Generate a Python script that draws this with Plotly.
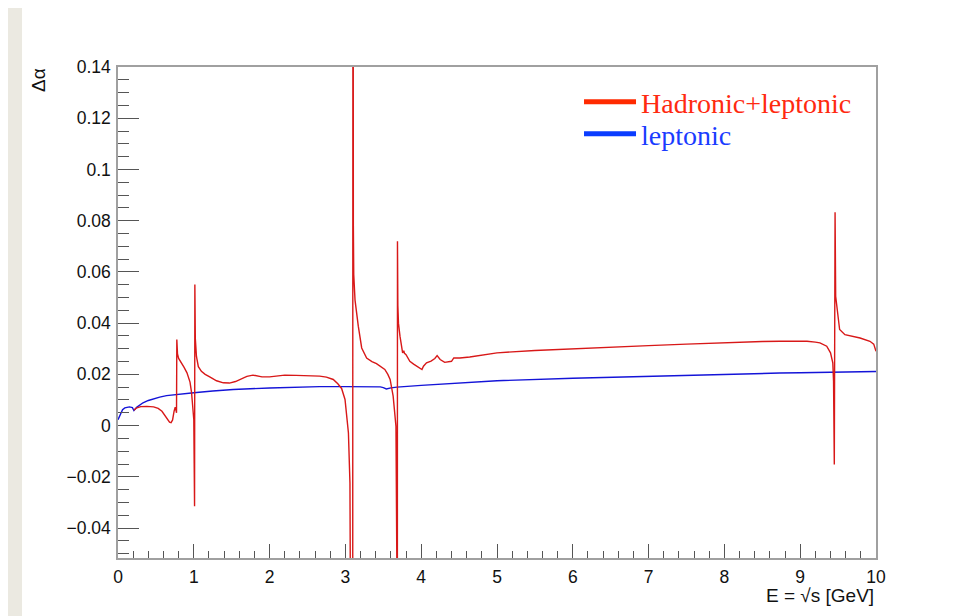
import plotly.graph_objects as go

# ---- data ----
energy_had = [0.21, 0.24, 0.30, 0.38, 0.47, 0.53, 0.58, 0.62, 0.65, 0.68, 0.70, 0.72, 0.74, 0.755,
              0.765, 0.772, 0.776, 0.785, 0.80, 0.83, 0.87, 0.91, 0.95, 0.97, 0.99, 1.000, 1.005,
              1.010, 1.014, 1.020, 1.035, 1.06, 1.10, 1.15, 1.21, 1.30, 1.39, 1.47, 1.55, 1.63,
              1.70, 1.78, 1.84, 1.90, 2.00, 2.10, 2.20, 2.35, 2.50, 2.66, 2.75, 2.84, 2.90, 2.95,
              2.995, 3.02, 3.04, 3.06, 3.08, 3.09, 3.095, 3.100, 3.105, 3.110, 3.127, 3.17, 3.215,
              3.28, 3.35, 3.41, 3.47, 3.52, 3.56, 3.59, 3.63, 3.667, 3.680, 3.684, 3.687, 3.692,
              3.700, 3.72, 3.755, 3.77, 3.78, 3.80, 3.85, 3.90, 3.94, 3.99, 4.01, 4.03, 4.07, 4.13,
              4.18, 4.21, 4.25, 4.31, 4.37, 4.40, 4.43, 4.51, 4.64, 4.80, 5.00, 5.50, 6.00, 6.50,
              7.00, 7.50, 8.00, 8.50, 8.73, 9.09, 9.20, 9.26, 9.35, 9.40, 9.43, 9.44, 9.450, 9.460,
              9.468, 9.49, 9.52, 9.59, 9.70, 9.79, 9.92, 9.97, 10.0]
dalpha_had = [0.0060, 0.0068, 0.0074, 0.0075, 0.0073, 0.0067, 0.0056, 0.0040, 0.0025, 0.0013,
              0.0011, 0.0022, 0.0056, 0.0072, 0.0060, 0.0050, 0.0336, 0.0280, 0.0262, 0.0245,
              0.0228, 0.0206, 0.0170, 0.0130, 0.0060, 0.0023, -0.0146, -0.0315, 0.0551, 0.0340,
              0.0270, 0.0230, 0.0212, 0.0200, 0.0190, 0.0175, 0.0167, 0.0166, 0.0172, 0.0182,
              0.0192, 0.0197, 0.0193, 0.0190, 0.0190, 0.0195, 0.0197, 0.0196, 0.0195, 0.0193,
              0.0189, 0.0180, 0.0163, 0.0145, 0.0102, 0.0040, -0.0029, -0.0224, -0.0600, -0.2500,
              -0.2500, 0.3000, 0.0780, 0.0590, 0.0490, 0.0388, 0.0303, 0.0264, 0.0250, 0.0242,
              0.0230, 0.0219, 0.0200, 0.0180, 0.0115, -0.0003, -0.0600, -0.2500, 0.0720, 0.0470,
              0.0400, 0.0349, 0.0284, 0.0292, 0.0282, 0.0277, 0.0251, 0.0240, 0.0232, 0.0222,
              0.0219, 0.0232, 0.0245, 0.0252, 0.0262, 0.0273, 0.0258, 0.0247, 0.0248, 0.0251,
              0.0264, 0.0264, 0.0268, 0.0276, 0.0284, 0.0293, 0.0300, 0.0306, 0.0312, 0.0318,
              0.0324, 0.0328, 0.0329, 0.0329, 0.0326, 0.0323, 0.0310, 0.0284, 0.0245, 0.0173,
              -0.0152, 0.0833, 0.0505, 0.0440, 0.0375, 0.0355, 0.0347, 0.0342, 0.0329, 0.0318,
              0.0290]

energy_lep = [0.0, 0.03, 0.06, 0.09, 0.15, 0.19, 0.21, 0.25, 0.33, 0.40, 0.47, 0.55, 0.64, 0.80,
              1.00, 1.25, 1.52, 2.00, 2.40, 2.66, 3.00, 3.30, 3.46, 3.50, 3.54, 3.60, 3.68, 4.00,
              4.64, 5.00, 6.00, 7.00, 8.00, 8.73, 9.00, 10.0]
dalpha_lep = [0.0023, 0.0045, 0.0062, 0.0069, 0.0073, 0.0070, 0.0059, 0.0072, 0.0089, 0.0098,
              0.0105, 0.0111, 0.0117, 0.0123, 0.0128, 0.0135, 0.0141, 0.0147, 0.0151, 0.0152,
              0.0152, 0.0152, 0.0151, 0.0148, 0.0143, 0.0147, 0.0150, 0.0157, 0.0169, 0.0175,
              0.0185, 0.0193, 0.0200, 0.0205, 0.0206, 0.0211]

ytick_vals = [-0.04, -0.02, 0, 0.02, 0.04, 0.06, 0.08, 0.1, 0.12, 0.14]
ytick_text = ["\u22120.04", "\u22120.02", "0", "0.02", "0.04", "0.06", "0.08", "0.1", "0.12", "0.14"]
xtick_vals = [0, 1, 2, 3, 4, 5, 6, 7, 8, 9, 10]
xtick_text = ["0", "1", "2", "3", "4", "5", "6", "7", "8", "9", "10"]

series_names = ["Hadronic+leptonic", "leptonic"]

fig = go.Figure()

fig.add_trace(go.Scatter(x=energy_lep, y=dalpha_lep, mode="lines",
                         line=dict(color="#1414d8", width=1.4), showlegend=False))
fig.add_trace(go.Scatter(x=energy_had, y=dalpha_had, mode="lines",
                         line=dict(color="#d81818", width=1.4), showlegend=False))

# legend entries
fig.add_trace(go.Scatter(x=[None], y=[None], mode="lines", legend="legend",
                         line=dict(color="#ff2a00", width=5),
                         name="<span style='color:#ff2a10'>" + series_names[0] + "</span>"))
fig.add_trace(go.Scatter(x=[None], y=[None], mode="lines", legend="legend2",
                         line=dict(color="#0a3cff", width=5),
                         name="<span style='color:#1a3cff'>" + series_names[1] + "</span>"))

axis_font = dict(family="Liberation Sans, Arial, sans-serif", size=17.5, color="#111")
legend_font = dict(family="Liberation Serif, Times New Roman, serif", size=28)

fig.update_layout(
    width=966, height=608,
    margin=dict(l=110, r=98, t=59, b=58),
    paper_bgcolor="#ebe9e1",
    plot_bgcolor="white",
    showlegend=True,
    legend=dict(x=0.6082, y=0.9287, xanchor="left", yanchor="middle", font=legend_font,
                itemwidth=52, bgcolor="rgba(0,0,0,0)"),
    legend2=dict(x=0.6082, y=0.8635, xanchor="left", yanchor="middle", font=legend_font,
                 itemwidth=52, bgcolor="rgba(0,0,0,0)"),
    xaxis=dict(range=[0, 10], showline=True, mirror=True, linecolor="#a0a0a0", linewidth=1.5,
               ticks="inside", ticklen=14, tickwidth=1, tickcolor="#555",
               tickvals=xtick_vals, ticktext=xtick_text, tickfont=axis_font,
               minor=dict(dtick=0.2, ticks="inside", ticklen=7, tickcolor="#555", showgrid=False),
               showgrid=False, zeroline=False, ticklabelstandoff=2),
    yaxis=dict(range=[-0.0517, 0.14], showline=True, mirror=True, linecolor="#a0a0a0", linewidth=1.5,
               ticks="inside", ticklen=21, tickwidth=1, tickcolor="#555",
               tickvals=ytick_vals, ticktext=ytick_text, tickfont=axis_font,
               minor=dict(dtick=0.005, ticks="inside", ticklen=11, tickcolor="#555", showgrid=False),
               showgrid=False, zeroline=False, ticklabelstandoff=2),
    shapes=[dict(type="rect", xref="paper", yref="paper", x0=-0.1266, x1=1.124, y0=-0.14, y1=1.126,
                 fillcolor="white", line=dict(width=0), layer="below")],
    annotations=[
        dict(text="\u0394\u03b1", xref="paper", yref="paper", x=-0.1055, y=0.9735,
             xanchor="center", yanchor="middle", textangle=-90, showarrow=False,
             font=dict(family="Liberation Sans, Arial, sans-serif", size=19, color="#111")),
        dict(text="E = \u221as [GeV]", xref="paper", yref="paper", x=1.0, y=-0.0755,
             xanchor="right", yanchor="middle", showarrow=False,
             font=dict(family="Liberation Sans, Arial, sans-serif", size=19, color="#111")),
    ],
)

fig.write_html("out.html")
